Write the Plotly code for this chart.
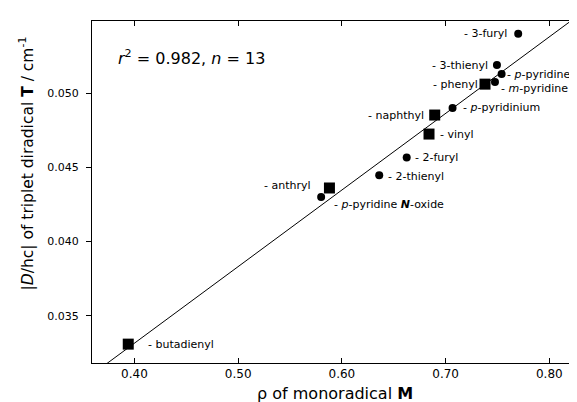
import plotly.graph_objects as go

# ---- data ----
names = ["butadienyl", "<i>p</i>-pyridine <b><i>N</i></b>-oxide", "anthryl", "2-thienyl", "2-furyl",
         "vinyl", "naphthyl", "<i>p</i>-pyridinium", "phenyl", "<i>m</i>-pyridine",
         "<i>p</i>-pyridine", "3-thienyl", "3-furyl"]
rho = [0.394, 0.580, 0.588, 0.636, 0.6625, 0.684, 0.6895, 0.7067, 0.738, 0.7476, 0.754, 0.7495, 0.770]
D = [0.0331, 0.0430, 0.04361, 0.04446, 0.04567, 0.04724, 0.04852, 0.0490, 0.0506, 0.05074, 0.05128, 0.05188, 0.0540]
kind = ["square", "circle", "square", "circle", "circle", "square", "square", "circle", "square",
        "circle", "circle", "circle", "circle"]
fit_slope = 0.05154
fit_intercept = 0.01255
x_ticks = [0.40, 0.50, 0.60, 0.70, 0.80]
y_ticks = [0.035, 0.040, 0.045, 0.050]
x_range = [0.35905, 0.8267]
y_range = [0.03183, 0.05485]

# label placement (pixel offsets: xanchor, xshift, yshift)
label_pos = {
    0: ("left", 18, 0), 1: ("left", 11, -7), 2: ("right", -16, 2), 3: ("left", 7, -1),
    4: ("left", 6, 0), 5: ("left", 9, 0), 6: ("right", -9, 0), 7: ("left", 8, 0),
    8: ("right", -5, 0), 9: ("left", 4, -6), 10: ("left", 3, 0), 11: ("right", -7, 0),
    12: ("right", -9, 0),
}

FONT = "DejaVu Sans, Verdana, sans-serif"

fig = go.Figure()

# regression line
fig.add_trace(go.Scatter(
    x=x_range, y=[fit_intercept + fit_slope * v for v in x_range],
    mode="lines", line=dict(color="black", width=1), hoverinfo="skip", showlegend=False))

sq_x = [r for r, k in zip(rho, kind) if k == "square"]
sq_y = [d for d, k in zip(D, kind) if k == "square"]
ci_x = [r for r, k in zip(rho, kind) if k == "circle"]
ci_y = [d for d, k in zip(D, kind) if k == "circle"]

fig.add_trace(go.Scatter(x=ci_x, y=ci_y, mode="markers",
                         marker=dict(symbol="circle", size=8, color="black"), showlegend=False))
fig.add_trace(go.Scatter(x=sq_x, y=sq_y, mode="markers",
                         marker=dict(symbol="square", size=11, color="black"), showlegend=False))

for i, (n, r, d) in enumerate(zip(names, rho, D)):
    xa, xs, ys = label_pos[i]
    fig.add_annotation(x=r, y=d, text="- " + n, showarrow=False, xanchor=xa, yanchor="middle",
                       xshift=xs, yshift=ys, font=dict(size=11, color="black", family=FONT))

fig.add_annotation(xref="paper", yref="paper", x=0.0488, y=0.892, xanchor="left", yanchor="middle",
                   text="<i>r</i><sup>2</sup> = 0.982, <i>n</i> = 13", showarrow=False,
                   font=dict(size=16, color="black", family=FONT))

fig.add_annotation(xref="paper", yref="paper", x=0.5, y=-0.088, xanchor="center", yanchor="middle",
                   text="ρ of monoradical <b>M</b>", showarrow=False,
                   font=dict(size=16, color="black", family=FONT))

fig.add_annotation(xref="paper", yref="paper", x=-0.1344, y=0.583, xanchor="center", yanchor="middle",
                   textangle=-90,
                   text="|<i>D</i>/hc| of triplet diradical <b>T</b> / cm<sup>-1</sup>", showarrow=False,
                   font=dict(size=15.5, color="black", family=FONT))

fig.update_layout(
    width=577, height=402,
    margin=dict(l=84, r=2, t=13, b=47),
    paper_bgcolor="white", plot_bgcolor="white",
    font=dict(family=FONT, color="black"),
    showlegend=False,
)
fig.update_xaxes(range=x_range, tickvals=x_ticks, ticktext=[f"{v:.2f}" for v in x_ticks],
                 ticks="inside", ticklen=5, tickcolor="black", showgrid=False, zeroline=False,
                 showline=True, linecolor="black", linewidth=1, mirror="ticks",
                 tickfont=dict(size=12, color="black", family=FONT))
fig.update_yaxes(range=y_range, tickvals=y_ticks, ticktext=[f"{v:.3f}" for v in y_ticks],
                 ticks="outside", ticklen=5, tickcolor="black", showgrid=False, zeroline=False,
                 showline=True, linecolor="black", linewidth=1, mirror="ticks",
                 ticklabelstandoff=5,
                 tickfont=dict(size=11, color="black", family=FONT))

fig.write_html("out.html")
